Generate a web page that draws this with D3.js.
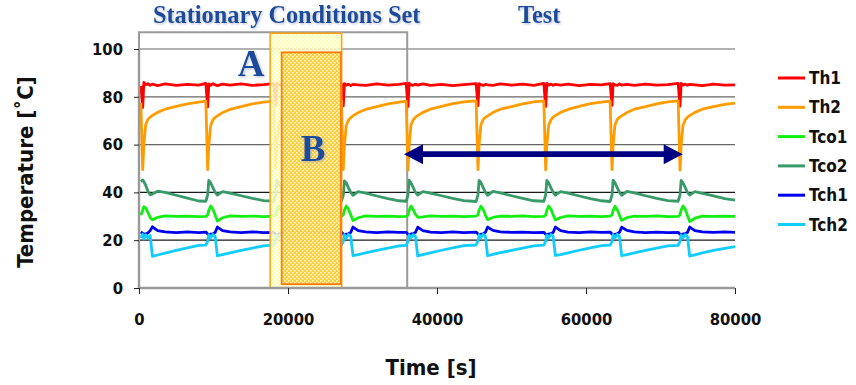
<!DOCTYPE html>
<html>
<head>
<meta charset="utf-8">
<script src="https://cdn.jsdelivr.net/npm/d3@7"></script>
<style>
  html, body { margin: 0; padding: 0; background: #fff; }
  svg { display: block; }
  .lbl { font-family: "DejaVu Sans Condensed", "DejaVu Sans", sans-serif; font-stretch: condensed; font-weight: bold; fill: #111; }
  .ser { font-family: "Liberation Serif", "Times New Roman", serif; font-weight: bold; fill: #1a4b9b; }
</style>
</head>
<body>
<div id="chart"></div>
<script>
// time axis [s] - one row per heating cycle
const time = [
  250, 500, 650, 900, 1200, 1500, 1800, 2500, 3500, 5000, 6500, 8000,
  8970, 9220, 9370, 9620, 9920, 10220, 10520, 11220, 12220, 13720, 15220, 16720,
  18100, 18350, 18500, 18750, 19050, 19350, 19650, 20350, 21350, 22850, 24350, 25850,
  27170, 27420, 27570, 27820, 28120, 28420, 28720, 29420, 30420, 31920, 33420, 34920,
  35860, 36110, 36260, 36510, 36810, 37110, 37410, 38110, 39110, 40610, 42110, 43610,
  45250, 45500, 45650, 45900, 46200, 46500, 46800, 47500, 48500, 50000, 51500, 53000,
  54340, 54590, 54740, 54990, 55290, 55590, 55890, 56590, 57590, 59090, 60590, 62090,
  63240, 63490, 63640, 63890, 64190, 64490, 64790, 65490, 66490, 67990, 69490, 70990,
  72370, 72620, 72770, 73020, 73320, 73620, 73920, 74620, 75620, 77120, 78620, 80000
];

const th1 = [
  84.6, 75.5, 86.0, 85.0, 85.5, 84.8, 85.3, 84.7, 85.4, 84.8, 85.2, 84.9,
  85.6, 75.8, 85.4, 84.8, 85.5, 85.0, 84.7, 85.3, 84.9, 85.4, 84.8, 85.1,
  85.5, 76.5, 85.6, 85.1, 84.8, 85.4, 85.0, 84.7, 85.3, 84.9, 85.4, 84.8,
  85.4, 76.2, 85.5, 84.9, 85.3, 84.7, 85.2, 85.0, 84.8, 85.4, 84.9, 85.2,
  85.6, 76.0, 85.7, 85.0, 84.8, 85.3, 84.9, 85.4, 84.8, 85.2, 84.7, 85.1,
  85.5, 76.3, 85.5, 85.1, 84.7, 85.2, 85.0, 84.8, 85.4, 84.9, 85.3, 84.8,
  85.6, 76.0, 85.6, 84.9, 85.3, 84.8, 85.2, 84.9, 85.3, 84.7, 85.2, 85.0,
  85.5, 76.4, 85.5, 85.0, 84.8, 85.4, 84.9, 85.2, 84.8, 85.3, 84.9, 85.1,
  85.6, 76.1, 85.6, 84.9, 85.3, 84.8, 85.2, 85.0, 84.7, 85.3, 84.9, 85.0
];

const th2 = [
  77.5, 49.5, 60.0, 68.5, 70.5, 71.5, 72.2, 73.5, 74.8, 76.0, 77.0, 77.8,
  78.2, 49.5, 59.5, 68.0, 70.3, 71.4, 72.0, 73.4, 74.7, 75.9, 77.0, 77.8,
  78.2, 50.0, 60.0, 68.3, 70.5, 71.5, 72.1, 73.5, 74.8, 76.0, 77.1, 77.9,
  78.3, 49.5, 59.5, 68.0, 70.3, 71.3, 72.0, 73.4, 74.7, 75.9, 77.0, 77.8,
  78.2, 49.3, 59.8, 68.2, 70.4, 71.5, 72.1, 73.5, 74.8, 76.0, 77.1, 77.9,
  78.3, 49.5, 60.0, 68.3, 70.5, 71.4, 72.0, 73.4, 74.8, 75.9, 77.0, 77.9,
  78.3, 49.4, 59.7, 68.1, 70.3, 71.5, 72.1, 73.5, 74.7, 76.0, 77.1, 77.8,
  78.2, 49.5, 59.9, 68.2, 70.5, 71.4, 72.0, 73.4, 74.8, 75.9, 77.0, 77.9,
  78.3, 49.3, 59.8, 68.0, 70.4, 71.5, 72.1, 73.5, 74.8, 75.9, 76.8, 77.4
];

const tco1 = [
  30.4, 32.5, 34.0, 33.5, 31.5, 29.5, 28.5, 29.6, 30.2, 30.0, 30.1, 29.9,
  30.0, 30.6, 32.5, 34.3, 33.0, 30.5, 28.0, 29.4, 30.2, 30.0, 30.1, 29.9,
  30.1, 30.5, 32.4, 34.2, 32.8, 30.4, 28.4, 29.5, 30.1, 30.0, 30.2, 29.9,
  30.0, 30.6, 32.6, 34.3, 33.0, 30.6, 28.2, 29.4, 30.2, 30.0, 30.1, 29.9,
  30.0, 30.5, 32.5, 34.3, 32.8, 30.8, 29.6, 29.8, 30.2, 30.0, 30.1, 29.9,
  30.1, 30.6, 32.6, 34.2, 32.9, 30.5, 28.6, 29.5, 30.1, 30.0, 30.2, 29.9,
  30.0, 30.5, 32.5, 34.3, 33.0, 30.6, 28.5, 29.5, 30.2, 30.0, 30.1, 29.9,
  30.1, 30.6, 32.4, 34.2, 32.8, 30.4, 28.3, 29.4, 30.1, 30.0, 30.2, 29.9,
  30.0, 30.6, 32.6, 34.3, 33.0, 30.3, 27.8, 29.2, 30.1, 30.0, 30.1, 30.0
];

const tco2 = [
  44.5, 45.2, 44.5, 43.0, 40.5, 39.0, 39.3, 40.5, 40.0, 38.8, 37.6, 36.4,
  36.3, 39.0, 45.0, 44.0, 42.0, 40.0, 38.9, 40.3, 39.7, 38.6, 37.5, 36.6,
  36.4, 39.0, 45.0, 44.1, 42.0, 40.1, 38.9, 40.4, 39.8, 38.6, 37.5, 36.6,
  36.3, 38.8, 44.8, 44.0, 41.9, 40.0, 38.8, 40.3, 39.7, 38.5, 37.4, 36.5,
  36.3, 39.0, 45.1, 44.0, 42.0, 40.0, 38.9, 40.3, 39.7, 38.6, 37.5, 36.6,
  36.2, 38.9, 45.0, 44.1, 42.0, 40.0, 38.8, 40.4, 39.8, 38.6, 37.5, 36.5,
  36.3, 39.0, 45.0, 44.0, 41.9, 40.1, 38.9, 40.3, 39.7, 38.5, 37.4, 36.5,
  36.2, 38.9, 45.1, 44.1, 42.0, 40.0, 38.8, 40.4, 39.8, 38.6, 37.5, 36.6,
  36.3, 39.0, 45.0, 44.0, 42.0, 40.0, 38.9, 40.3, 39.6, 38.5, 37.4, 36.8
];

const tch1 = [
  23.5, 22.8, 22.5, 22.6, 23.0, 24.0, 25.6, 24.0, 23.5, 23.2, 23.5, 23.2,
  23.4, 22.6, 22.3, 22.5, 22.7, 23.2, 25.5, 24.0, 23.5, 23.2, 23.5, 23.2,
  23.3, 22.5, 22.4, 22.6, 22.8, 23.3, 25.4, 24.1, 23.4, 23.3, 23.4, 23.2,
  23.4, 22.6, 22.3, 22.5, 22.7, 23.2, 25.5, 24.0, 23.5, 23.2, 23.5, 23.3,
  23.3, 22.5, 22.3, 22.6, 22.8, 23.2, 25.4, 24.0, 23.4, 23.2, 23.5, 23.2,
  23.4, 22.6, 22.4, 22.5, 22.7, 23.3, 25.5, 24.1, 23.5, 23.3, 23.4, 23.2,
  23.3, 22.5, 22.3, 22.6, 22.8, 23.2, 25.5, 24.0, 23.4, 23.2, 23.5, 23.3,
  23.4, 22.6, 22.4, 22.5, 22.7, 23.3, 25.4, 24.1, 23.5, 23.2, 23.4, 23.2,
  23.3, 22.5, 22.3, 22.6, 22.8, 23.2, 25.5, 24.0, 23.5, 23.3, 23.5, 23.3
];

const tch2 = [
  21.0, 22.5, 20.5, 22.3, 21.0, 22.0, 13.2, 13.8, 14.6, 15.7, 16.8, 17.8,
  17.9, 19.5, 22.3, 21.0, 22.5, 21.6, 13.5, 14.0, 14.7, 15.7, 16.7, 17.6,
  18.0, 19.6, 22.2, 21.1, 22.4, 21.5, 13.6, 14.1, 14.8, 15.8, 16.8, 17.7,
  17.9, 19.4, 22.3, 20.9, 22.5, 21.6, 13.5, 14.0, 14.7, 15.7, 16.7, 17.6,
  17.8, 19.5, 22.2, 21.0, 22.4, 21.5, 13.4, 14.0, 14.7, 15.8, 16.8, 17.7,
  18.0, 19.6, 22.3, 21.1, 22.5, 21.6, 13.5, 14.1, 14.8, 15.7, 16.7, 17.6,
  17.9, 19.5, 22.2, 21.0, 22.4, 21.5, 13.6, 14.0, 14.7, 15.8, 16.8, 17.7,
  17.9, 19.4, 22.3, 20.9, 22.5, 21.6, 13.5, 14.0, 14.7, 15.7, 16.7, 17.6,
  17.8, 19.5, 22.2, 21.0, 22.4, 21.5, 13.3, 13.9, 14.7, 15.7, 16.6, 17.3
];

const seriesNames = ['Th1', 'Th2', 'Tco1', 'Tco2', 'Tch1', 'Tch2'];
const seriesValues = [th1, th2, tco1, tco2, tch1, tch2];
const seriesColors = ['#ff0000', '#ff9c00', '#11ee11', '#379a68', '#0000f0', '#11ccff'];

const xTicks = [0, 20000, 40000, 60000, 80000];
const yTicks = [0, 20, 40, 60, 80, 100];

// marked zones: [start s, end s, bottom degC, top degC]
const zoneSet = [0, 36000, 0, 107];
const zoneA = [17600, 27200, 0, 106.6];
const zoneB = [19150, 27100, 1.6, 98.6];
// test arrow: [from s, to s, at degC]
const testArrow = [35570, 72980, 56];

const W = 856, H = 385;
const x = d3.scaleLinear().domain([0, 80000]).range([139, 735]);
const y = d3.scaleLinear().domain([0, 100]).range([288, 49]);

const svg = d3.select('#chart').append('svg')
  .attr('width', W).attr('height', H)
  .attr('viewBox', `0 0 ${W} ${H}`);

const defs = svg.append('defs');
const fShadow = defs.append('filter').attr('id', 'shadow')
  .attr('x', '-10%').attr('y', '-10%').attr('width', '130%').attr('height', '140%');
fShadow.append('feDropShadow').attr('dx', 1.2).attr('dy', 1.2)
  .attr('stdDeviation', 0.8).attr('flood-color', '#8899bb').attr('flood-opacity', 0.6);

const patA = defs.append('pattern').attr('id', 'patA')
  .attr('width', 4).attr('height', 4).attr('patternUnits', 'userSpaceOnUse');
patA.append('rect').attr('width', 4).attr('height', 4).attr('fill', '#ffff9a');
patA.append('rect').attr('width', 2).attr('height', 2).attr('fill', '#fffff0');
patA.append('rect').attr('x', 2).attr('y', 2).attr('width', 2).attr('height', 2).attr('fill', '#fffff0');

const patB = defs.append('pattern').attr('id', 'patB')
  .attr('width', 4).attr('height', 4).attr('patternUnits', 'userSpaceOnUse');
patB.append('rect').attr('width', 4).attr('height', 4).attr('fill', '#ffc81c');
patB.append('rect').attr('width', 1.6).attr('height', 1.6).attr('fill', '#fff6d0');
patB.append('rect').attr('x', 2).attr('y', 2).attr('width', 1.6).attr('height', 1.6).attr('fill', '#fff6d0');

// grid
svg.append('g').selectAll('line')
  .data(yTicks.filter(d => d > 0))
  .enter().append('line')
  .attr('x1', x(0)).attr('x2', x(80000))
  .attr('y1', d => y(d)).attr('y2', d => y(d))
  .attr('stroke', d => d >= 60 ? '#666' : '#1a1a1a')
  .attr('stroke-width', 1.2);

// stationary set frame
svg.append('rect')
  .attr('x', x(zoneSet[0])).attr('y', y(zoneSet[3]))
  .attr('width', x(zoneSet[1]) - x(zoneSet[0]))
  .attr('height', y(zoneSet[2]) - y(zoneSet[3]))
  .attr('fill', 'none').attr('stroke', '#9a9a9a').attr('stroke-width', 2);

// series
const line = d3.line()
  .x((d, i) => x(time[i]))
  .y(d => y(d));

svg.append('g').selectAll('path')
  .data(seriesValues)
  .enter().append('path')
  .attr('d', line)
  .attr('fill', 'none')
  .attr('stroke', (d, i) => seriesColors[i])
  .attr('stroke-width', 2.8)
  .attr('stroke-linejoin', 'round');

// zones A and B
svg.append('rect')
  .attr('x', x(zoneA[0])).attr('y', y(zoneA[3]))
  .attr('width', x(zoneA[1]) - x(zoneA[0]))
  .attr('height', y(zoneA[2]) - y(zoneA[3]))
  .attr('fill', 'url(#patA)').attr('fill-opacity', 0.85)
  .attr('stroke', '#ffa31a').attr('stroke-width', 1.6);

svg.append('rect')
  .attr('x', x(zoneB[0])).attr('y', y(zoneB[3]))
  .attr('width', x(zoneB[1]) - x(zoneB[0]))
  .attr('height', y(zoneB[2]) - y(zoneB[3]))
  .attr('fill', 'url(#patB)').attr('fill-opacity', 0.88)
  .attr('stroke', '#ff7a10').attr('stroke-width', 1.8);

svg.append('text').attr('class', 'ser')
  .attr('x', 251).attr('y', 76)
  .attr('text-anchor', 'middle').style('font-size', '37px')
  .attr('filter', 'url(#shadow)').text('A');
svg.append('text').attr('class', 'ser')
  .attr('x', 313).attr('y', 161)
  .attr('text-anchor', 'middle').style('font-size', '37px')
  .attr('filter', 'url(#shadow)').text('B');

// test arrow
const ax0 = x(testArrow[0]), ax1 = x(testArrow[1]), ay = y(testArrow[2]);
const hl = 19, hw = 10, sw = 2.8;
svg.append('path')
  .attr('d', `M${ax0},${ay} L${ax0 + hl},${ay - hw} L${ax0 + hl},${ay - sw} L${ax1 - hl},${ay - sw}
    L${ax1 - hl},${ay - hw} L${ax1},${ay} L${ax1 - hl},${ay + hw} L${ax1 - hl},${ay + sw}
    L${ax0 + hl},${ay + sw} L${ax0 + hl},${ay + hw} Z`)
  .attr('fill', '#000080');

// axes
const yAxis = svg.append('g')
  .attr('transform', `translate(${x(0)},0)`)
  .call(d3.axisLeft(y).tickValues(yTicks).tickSize(5).tickPadding(11));
const xAxis = svg.append('g')
  .attr('transform', `translate(0,${y(0)})`)
  .call(d3.axisBottom(x).tickValues(xTicks).tickSize(6).tickFormat(d3.format('d')));

[yAxis, xAxis].forEach(g => {
  g.select('.domain').attr('stroke', '#999').attr('stroke-width', 2.4);
  g.selectAll('.tick line').attr('stroke', '#222');
  g.selectAll('.tick text').attr('class', 'lbl').style('font-size', '16.5px').attr('fill', null);
});
xAxis.select('.domain').attr('d', `M${x(0)},0H${x(80000)}`);
yAxis.select('.domain').attr('d', `M0,${y(0)}V${y(100)}`);
xAxis.selectAll('.tick text').attr('y', 37).attr('dy', 0);

// axis titles
svg.append('text').attr('class', 'lbl')
  .attr('transform', 'translate(33,172) rotate(-90)')
  .attr('text-anchor', 'middle').style('font-size', '22px')
  .text('Temperature [˚C]');
svg.append('text').attr('class', 'lbl')
  .attr('x', 431).attr('y', 375)
  .attr('text-anchor', 'middle').style('font-size', '22px')
  .text('Time [s]');

// headings
svg.append('text').attr('class', 'ser')
  .attr('x', 153).attr('y', 23).style('font-size', '24.3px')
  .attr('filter', 'url(#shadow)').text('Stationary Conditions Set');
svg.append('text').attr('class', 'ser')
  .attr('x', 518).attr('y', 23).style('font-size', '24.3px')
  .attr('filter', 'url(#shadow)').text('Test');

// legend
const legend = svg.append('g').selectAll('g')
  .data(seriesNames)
  .enter().append('g')
  .attr('transform', (d, i) => `translate(778,${78 + i * 29.3})`);
legend.append('line')
  .attr('x1', 0).attr('x2', 27)
  .attr('stroke', (d, i) => seriesColors[i]).attr('stroke-width', 3);
legend.append('text').attr('class', 'lbl')
  .attr('x', 31).attr('dy', '0.36em').style('font-size', '17px')
  .text(d => d);
</script>
</body>
</html>
